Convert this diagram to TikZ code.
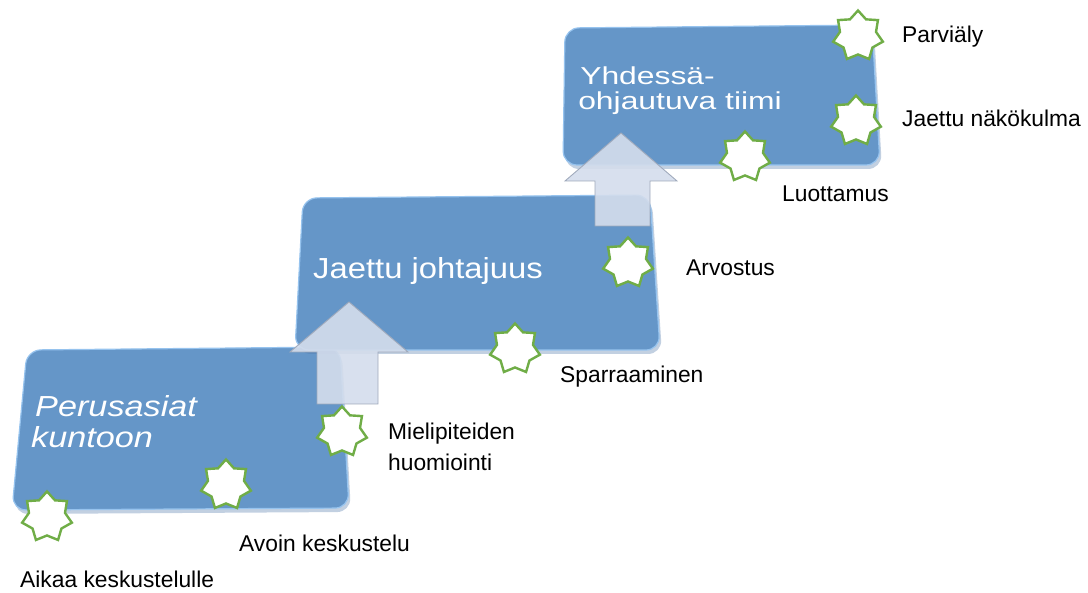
\documentclass[tikz,border=0pt]{standalone}
\usepackage{fontspec}
\setmainfont{Liberation Sans}
\usetikzlibrary{shapes.geometric}

\definecolor{boxblue}{RGB}{101,150,200}
\definecolor{boxrim}{RGB}{150,195,238}
\definecolor{boxshade}{RGB}{80,120,170}
\definecolor{arrowfill}{RGB}{212,221,236}
\definecolor{arrowedge}{RGB}{160,170,188}
\definecolor{stargreen}{RGB}{112,173,71}

\begin{document}
\begin{tikzpicture}[x=1pt,y=-1pt,
  stepbox/.style={fill=boxblue, draw=boxrim, line width=1.2pt, rounded corners=14pt},
  stepshadow/.style={fill=boxshade, opacity=0.35, rounded corners=14pt},
  uparrow/.style={fill=arrowfill, fill opacity=0.9, draw=arrowedge, line width=0.9pt, line join=miter},
  badge/.style={star, star points=7, star point ratio=1.38, minimum size=51pt, inner sep=0pt,
                fill=white, draw=stargreen, line width=2.4pt},
  steptext/.style={anchor=base west, text=white, inner sep=0pt},
  note/.style={anchor=base west, inner sep=0pt, font=\fontsize{22.8}{26}\selectfont}
]
\useasboundingbox (0,0) rectangle (1088,593);

% step 1
\fill[stepshadow] (29,354) -- (342,351) -- (351,512) -- (14,514) -- cycle;
\draw[stepbox] (27,350) -- (340,347) -- (349,508) -- (12,510) -- cycle;
% step 2
\fill[stepshadow] (305,202) -- (652,199) -- (662,354) -- (297,354) -- cycle;
\draw[stepbox] (303,198) -- (650,195) -- (660,350) -- (295,350) -- cycle;
% step 3
\fill[stepshadow] (567,32) -- (874,29) -- (882,169) -- (565,169) -- cycle;
\draw[stepbox] (565,28) -- (872,25) -- (880,165) -- (563,165) -- cycle;

% step titles
\node[steptext, xscale=1.18, font=\fontsize{29}{31}\selectfont\itshape] (t1a) at (35,417) {Perusasiat};
\node[steptext, xscale=1.18, font=\fontsize{29}{31}\selectfont\itshape] (t1b) at (31,448) {kuntoon};
\node[steptext, xscale=1.13, font=\fontsize{29}{31}\selectfont] (t2) at (313,279) {Jaettu johtajuus};
\node[steptext, xscale=1.3, font=\fontsize{24.5}{26}\selectfont] (t3a) at (580,85) {Yhdessä-};
\node[steptext, xscale=1.3, font=\fontsize{24.5}{26}\selectfont] (t3b) at (578,110) {ohjautuva tiimi};

% arrows between the steps
\draw[uparrow] (349,302) -- (408,352) -- (378,352) -- (378,404) -- (317,404) -- (317,352) -- (290,352) -- cycle;
\draw[uparrow] (621,133) -- (677,181) -- (650,181) -- (650,226) -- (595,226) -- (595,181) -- (565,181) -- cycle;

% badges
\node[badge] (s1) at (47,517) {};
\node[badge] (s2) at (226,485) {};
\node[badge] (s3) at (342,432) {};
\node[badge] (s4) at (515,349) {};
\node[badge] (s5) at (628,263) {};
\node[badge] (s6) at (745,157) {};
\node[badge] (s7) at (856,121) {};
\node[badge] (s8) at (858,36) {};

% labels
\node[note] (l1) at (20,587) {Aikaa keskustelulle};
\node[note] (l2) at (239,552) {Avoin keskustelu};
\node[note] (l3a) at (388,440) {Mielipiteiden};
\node[note] (l3b) at (388,471) {huomiointi};
\node[note] (l4) at (560,383) {Sparraaminen};
\node[note] (l5) at (686,276) {Arvostus};
\node[note] (l6) at (782,202) {Luottamus};
\node[note] (l7) at (902,127) {Jaettu näkökulma};
\node[note] (l8) at (902,43) {Parviäly};
\end{tikzpicture}
\end{document}
